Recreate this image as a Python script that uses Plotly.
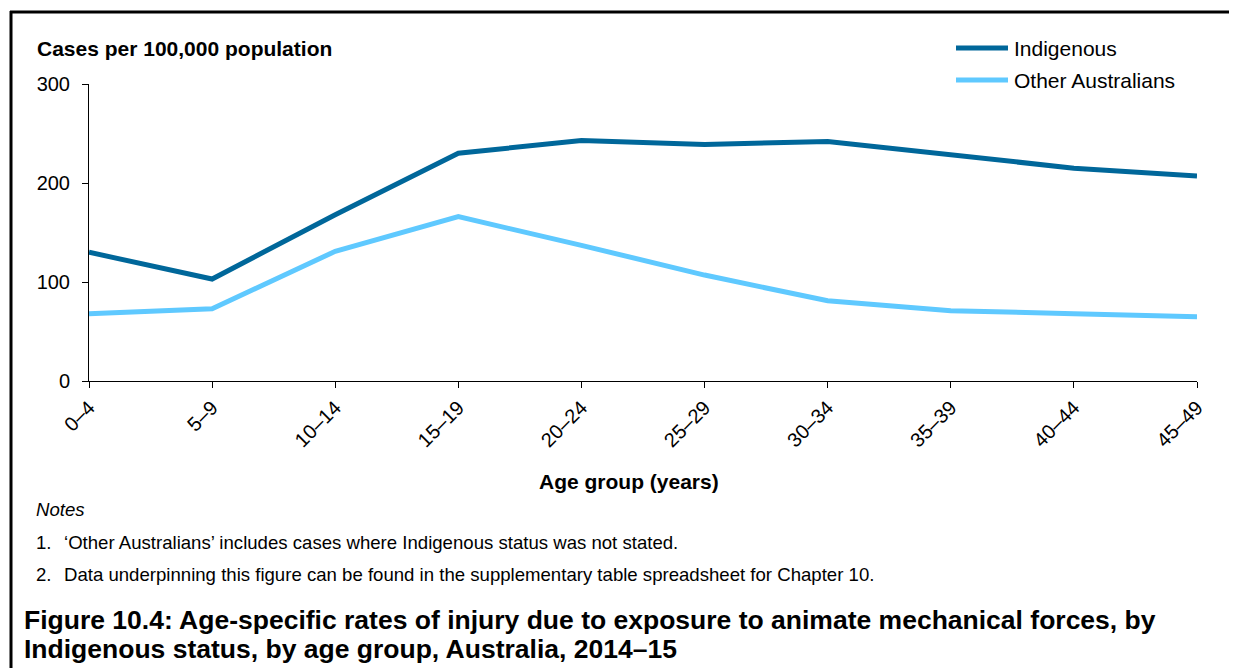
import plotly.graph_objects as go

age_groups = ["0–4", "5–9", "10–14", "15–19", "20–24", "25–29", "30–34", "35–39", "40–44", "45–49"]
indigenous = [130, 103, 168, 230, 243, 239, 242, 229, 215, 207]
other_aus = [68, 73, 131, 166, 137, 107, 81, 71, 68, 65]
series_names = ["Indigenous", "Other Australians"]
series_colors = ["#00679A", "#5FC9FF"]
y_ticks = [0, 100, 200, 300]

OFF = 8  # page body margin
W, H = 1237 - 2 * OFF, 668 - OFF
L, R, T, B = 89 - OFF, 1197 - OFF, 84 - OFF, 381 - OFF
FONT = "Liberation Sans, Arial, sans-serif"


def px(x):
    return (x - OFF - L) / (R - L)


def py(y):
    return (B - (y - OFF)) / (B - T)


fig = go.Figure()
for name, vals, col in zip(series_names, [indigenous, other_aus], series_colors):
    fig.add_trace(go.Scatter(x=age_groups, y=vals, mode="lines", name=name,
                             line=dict(color=col, width=5), showlegend=False))

fig.update_layout(
    width=W, height=H,
    margin=dict(l=L, r=W - R, t=T, b=H - B, pad=0),
    paper_bgcolor="white", plot_bgcolor="white",
    font=dict(family=FONT, color="black", size=20),
    xaxis=dict(type="category", range=[0, len(age_groups) - 1], showgrid=False,
               showline=True, linecolor="black", linewidth=1, ticks="outside",
               ticklen=6, tickcolor="black", tickangle=-45,
               tickfont=dict(size=20), zeroline=False),
    yaxis=dict(range=[0, 300], tickvals=y_ticks, showgrid=False, showline=True,
               linecolor="black", linewidth=1, ticks="outside", ticklen=6,
               tickcolor="black", tickfont=dict(size=20), zeroline=False,
               ticklabelstandoff=8),
)

NOTE = 18.6
ann = []
ann.append(dict(text="<b>Cases per 100,000 population</b>", x=px(35), y=py(49),
                xanchor="left", yanchor="middle", font=dict(size=21)))
ann.append(dict(text="<b>Age group (years)</b>", x=px(629), y=py(481),
                xanchor="center", yanchor="middle", font=dict(size=21)))
ann.append(dict(text="<i>Notes</i>", x=px(34), y=py(509),
                xanchor="left", yanchor="middle", font=dict(size=NOTE)))
ann.append(dict(text="1.", x=px(34), y=py(542), xanchor="left", yanchor="middle", font=dict(size=NOTE)))
ann.append(dict(text="‘Other Australians’ includes cases where Indigenous status was not stated.",
                x=px(62), y=py(542), xanchor="left", yanchor="middle", font=dict(size=NOTE)))
ann.append(dict(text="2.", x=px(34), y=py(574), xanchor="left", yanchor="middle", font=dict(size=NOTE)))
ann.append(dict(text="Data underpinning this figure can be found in the supplementary table spreadsheet for Chapter 10.",
                x=px(62), y=py(574), xanchor="left", yanchor="middle", font=dict(size=NOTE)))
ann.append(dict(text="<b>Figure 10.4: Age-specific rates of injury due to exposure to animate mechanical forces, by</b>",
                x=px(23), y=py(620), xanchor="left", yanchor="middle", font=dict(size=26.5),
                borderpad=0))
ann.append(dict(text="<b>Indigenous status, by age group, Australia, 2014–15</b>",
                x=px(23), y=py(649), xanchor="left", yanchor="middle", font=dict(size=26.5),
                borderpad=0))

shapes = []
legend_y = [48, 80]
for name, col, ly in zip(series_names, series_colors, legend_y):
    shapes.append(dict(type="line", xref="paper", yref="paper", x0=px(956), x1=px(1008),
                       y0=py(ly), y1=py(ly), line=dict(color=col, width=5)))
    ann.append(dict(text=name, x=px(1012), y=py(ly), xanchor="left", yanchor="middle",
                    font=dict(size=21)))

# frame lines
shapes.append(dict(type="line", xref="paper", yref="paper", x0=px(10), x1=px(1237),
                   y0=py(12), y1=py(12), line=dict(color="black", width=3)))
shapes.append(dict(type="line", xref="paper", yref="paper", x0=px(11), x1=px(11),
                   y0=py(11), y1=py(670), line=dict(color="black", width=3)))

for a in ann:
    a.update(xref="paper", yref="paper", showarrow=False)
fig.update_layout(annotations=ann, shapes=shapes)

fig.write_html("out.html", config={"displayModeBar": False})
